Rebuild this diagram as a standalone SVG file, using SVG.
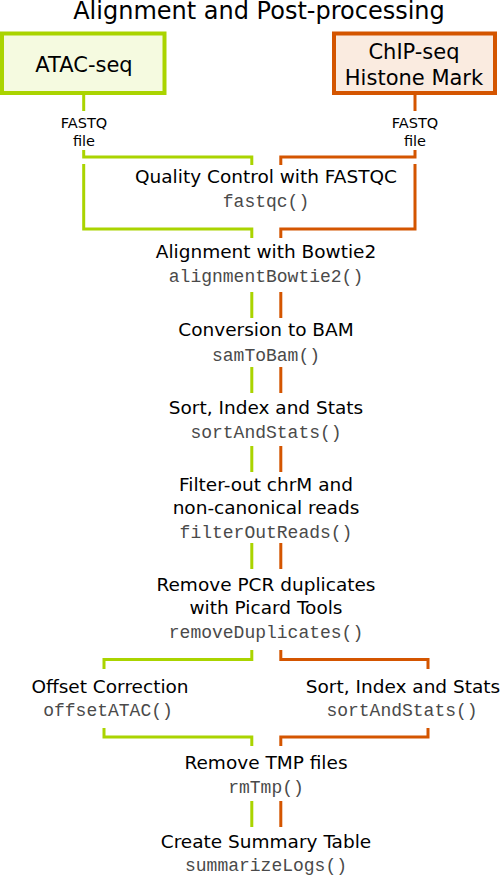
<svg xmlns="http://www.w3.org/2000/svg" width="500" height="875" viewBox="0 0 500 875">
<style>
.t{font-family:"DejaVu Sans",Verdana,sans-serif;font-size:18.5px;fill:#000;text-anchor:middle}
.f{font-family:"Liberation Mono","Courier New",monospace;font-size:18px;fill:#4a4a4a;text-anchor:middle}
.s{font-family:"DejaVu Sans",Verdana,sans-serif;font-size:14.5px;fill:#000;text-anchor:middle}
.h{font-family:"DejaVu Sans",Verdana,sans-serif;font-size:21px;fill:#000;text-anchor:middle}
.g{fill:none;stroke:#aad400;stroke-width:3}
.o{fill:none;stroke:#d45500;stroke-width:3}
</style>
<rect width="500" height="875" fill="#fff"/>
<text id="title" x="259" y="19" style="font-family:'DejaVu Sans',Verdana,sans-serif;font-size:24px;text-anchor:middle">Alignment and Post-processing</text>
<g id="connectors">
  <path class="g" d="M83.7,95 V111"/>
  <path class="o" d="M415,95 V111"/>
  <path class="g" d="M83.7,150 V157 H251.8 V165"/>
  <path class="o" d="M415,150 V157 H280.8 V165"/>
  <path class="g" d="M83.7,164 V229 H251.8 V238"/>
  <path class="o" d="M415,164 V229 H280.8 V238"/>
  <path class="g" d="M251.8,292 V318 M251.8,367 V393 M251.8,446 V472 M251.8,543 V569 M251.8,801 V827"/>
  <path class="o" d="M280.8,292 V318 M280.8,367 V393 M280.8,446 V472 M280.8,543 V569 M280.8,801 V827"/>
  <path class="g" d="M251.8,650 V659.5 H104 V669"/>
  <path class="o" d="M280.8,650 V659.5 H428 V669"/>
  <path class="g" d="M104,728 V737 H251.8 V746"/>
  <path class="o" d="M428,728 V737 H280.8 V746"/>
</g>
<g id="atac">
  <rect x="2" y="33.5" width="162.5" height="59.5" fill="#f5fae0" stroke="#aad400" stroke-width="4"/>
  <text class="h" x="84" y="72">ATAC-seq</text>
</g>
<g id="chip">
  <rect x="334" y="33.5" width="161" height="59.5" fill="#faebe0" stroke="#d45500" stroke-width="4"/>
  <text class="h" x="414" y="59">ChIP-seq</text>
  <text class="h" x="414" y="85">Histone Mark</text>
</g>
<g id="fastq-left"><text class="s" x="84" y="128">FASTQ</text><text class="s" x="84" y="146">file</text></g>
<g id="fastq-right"><text class="s" x="415" y="128">FASTQ</text><text class="s" x="415" y="146">file</text></g>
<g id="qc"><text class="t" x="266" y="183">Quality Control with FASTQC</text><text class="f" x="266" y="207">fastqc()</text></g>
<g id="align"><text class="t" x="266" y="258">Alignment with Bowtie2</text><text class="f" x="266" y="282">alignmentBowtie2()</text></g>
<g id="bam"><text class="t" x="266" y="336">Conversion to BAM</text><text class="f" x="266" y="361">samToBam()</text></g>
<g id="sort"><text class="t" x="266" y="414">Sort, Index and Stats</text><text class="f" x="266" y="438">sortAndStats()</text></g>
<g id="filter"><text class="t" x="266" y="491">Filter-out chrM and</text><text class="t" x="266" y="514">non-canonical reads</text><text class="f" x="266" y="538">filterOutReads()</text></g>
<g id="dup"><text class="t" x="266" y="591">Remove PCR duplicates</text><text class="t" x="266" y="614">with Picard Tools</text><text class="f" x="266" y="638">removeDuplicates()</text></g>
<g id="offset"><text class="t" x="110" y="693">Offset Correction</text><text class="f" x="108" y="716">offsetATAC()</text></g>
<g id="sort2"><text class="t" x="403" y="693">Sort, Index and Stats</text><text class="f" x="402" y="716">sortAndStats()</text></g>
<g id="rmtmp"><text class="t" x="266" y="769">Remove TMP files</text><text class="f" x="266" y="793">rmTmp()</text></g>
<g id="summary"><text class="t" x="266" y="848">Create Summary Table</text><text class="f" x="266" y="870.5">summarizeLogs()</text></g>
</svg>
